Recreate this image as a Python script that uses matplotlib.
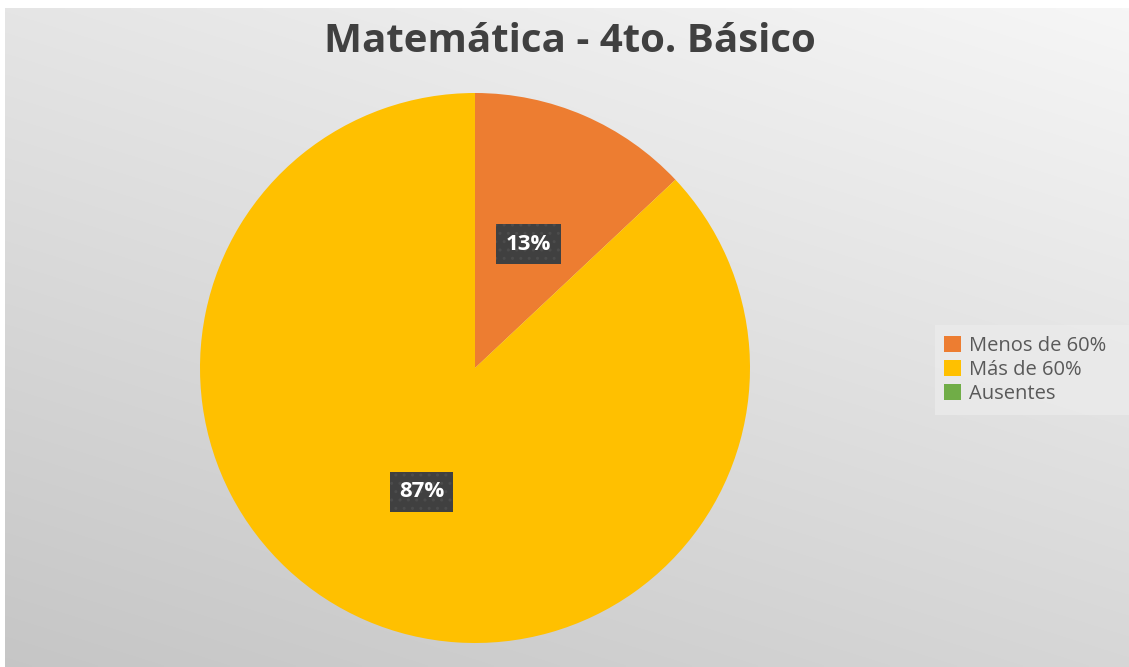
import numpy as np
import matplotlib
matplotlib.use("Agg")
import matplotlib.pyplot as plt
from matplotlib.patches import Rectangle

# data
categorias = ["Menos de 60%", "Más de 60%", "Ausentes"]
valores = [13, 87, 0]
colores = ["#ED7D31", "#FFC000", "#70AD47"]
titulo = "Matemática - 4to. Básico"

plt.rcParams['font.family'] = ['Open Sans', 'DejaVu Sans']

W, H = 1129, 667
fig = plt.figure(figsize=(W / 100, H / 100), dpi=100)
fig.patch.set_facecolor("white")

# gray gradient background (light top-right, darker bottom-left)
bg = fig.add_axes([5 / W, 0, 1 - 5 / W, 1 - 8 / H])
yy, xx = np.mgrid[0:1:200j, 0:1:300j]
t = 0.65 * yy + 0.35 * (1 - xx)  # 0 at top-right, 1 at bottom-left
grad = 0.965 - 0.19 * t
bg.imshow(np.dstack([grad, grad, grad]), aspect="auto", extent=[0, 1, 0, 1],
          interpolation="bilinear")
bg.axis("off")

# pie
cx, cy, r = 475, 368, 275
ax = fig.add_axes([(cx - r) / W, (H - cy - r) / H, 2 * r / W, 2 * r / H])
ax.patch.set_alpha(0)


def etiqueta(p):
    return f"{p:.0f}%" if p > 0.5 else ""


wedges, texts, autotexts = ax.pie(valores, colors=colores, startangle=90,
                                  counterclock=False, autopct=etiqueta,
                                  pctdistance=0.49, radius=1,
                                  wedgeprops=dict(linewidth=0))
for at in autotexts:
    at.set_color("white")
    at.set_fontweight("bold")
    at.set_fontsize(16)
    at.set_bbox(dict(boxstyle="square,pad=0.42", facecolor="#404040",
                     edgecolor="#4c4c4c", linewidth=0, hatch=".."))
ax.set_xlim(-1, 1)
ax.set_ylim(-1, 1)
ax.set_aspect("equal")

fig.text(0.505, 1 - 42 / H, titulo, ha="center", va="center",
         fontsize=29, fontweight="bold", color="#404040")

# legend band
fig.patches.append(Rectangle((935 / W, 1 - 415 / H), (W - 935) / W, 90 / H,
                             transform=fig.transFigure, facecolor="#ececec",
                             alpha=0.7, edgecolor="none", zorder=1))
leg = fig.legend(wedges, categorias, loc="center left",
                 bbox_to_anchor=(940 / W, 1 - 370 / H), frameon=False,
                 fontsize=14.5, handlelength=0.85, handleheight=0.85,
                 handletextpad=0.4, labelspacing=0.2, borderpad=0.2,
                 borderaxespad=0)
for txt in leg.get_texts():
    txt.set_color("#595959")

fig.savefig("out.png", dpi=100)
